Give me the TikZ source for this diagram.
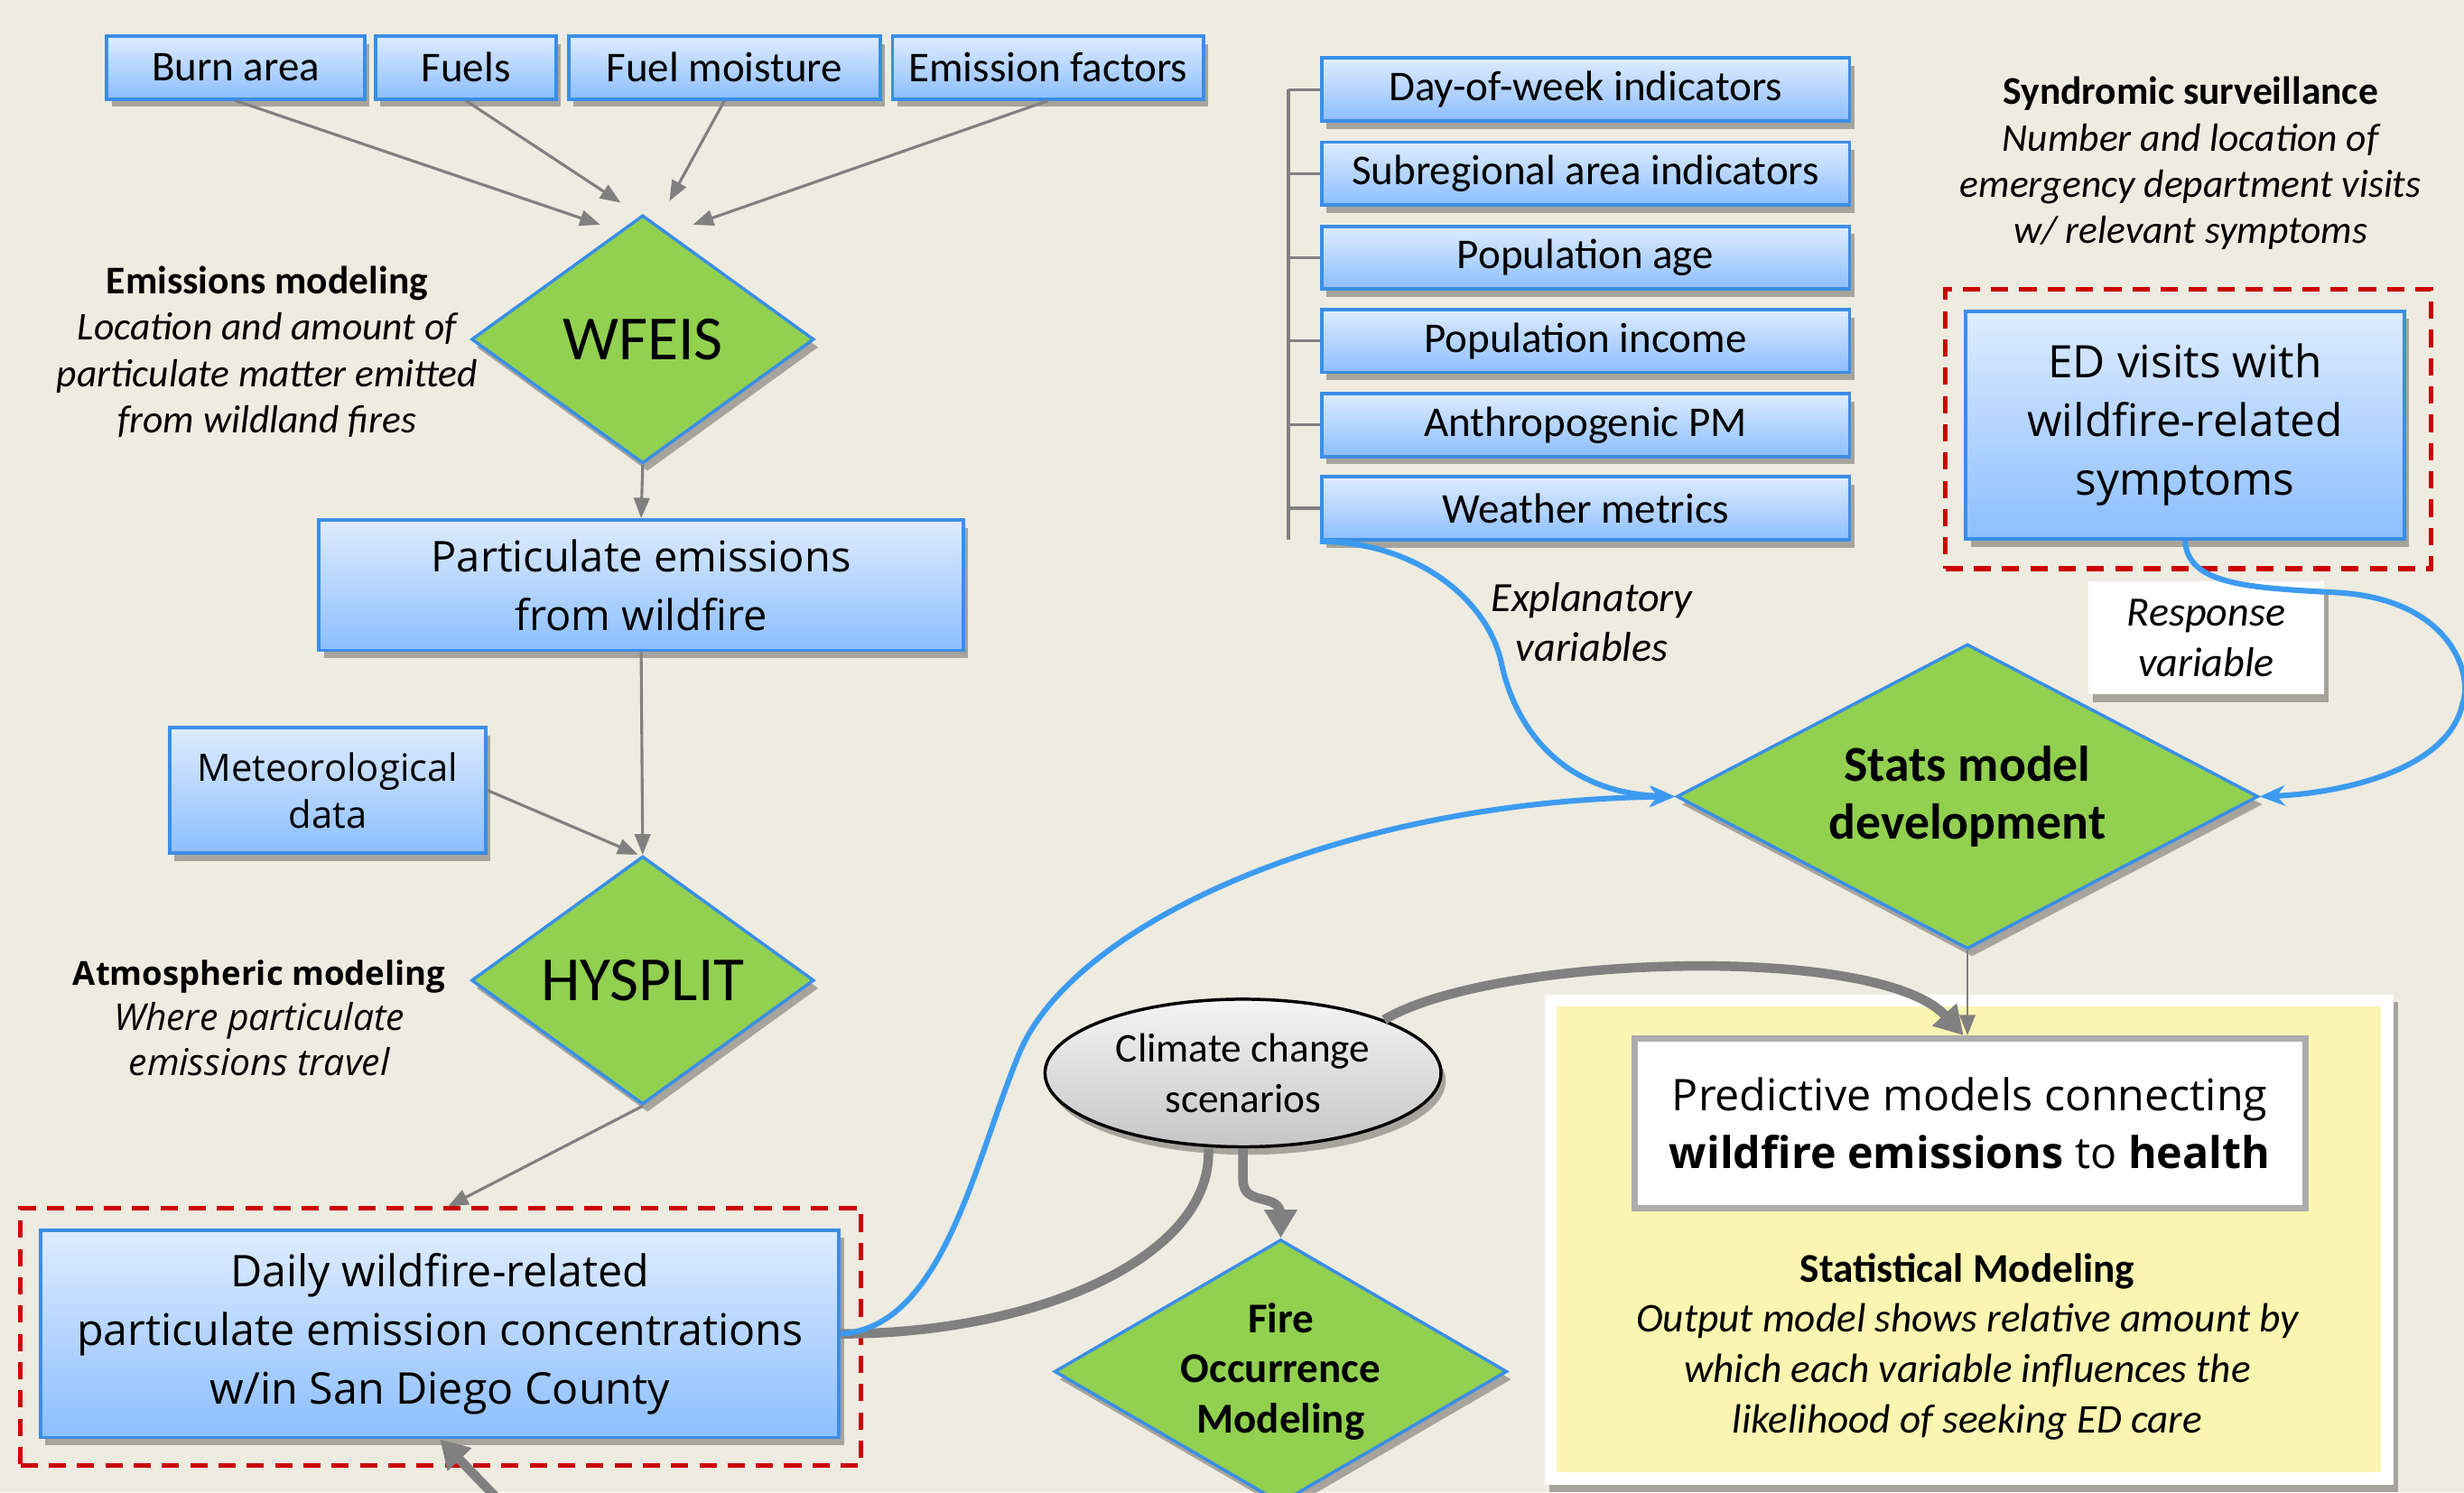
\documentclass[tikz,border=0pt]{standalone}
\usepackage{fontspec}
\setmainfont{Carlito}
\newfontfamily\seg{Open Sans}
\usetikzlibrary{shapes.geometric,arrows.meta,shadows,calc}
\definecolor{bg}{RGB}{238,235,224}
\definecolor{boxtop}{RGB}{222,236,255}
\definecolor{boxbot}{RGB}{140,190,255}
\definecolor{boxline}{RGB}{58,142,230}
\definecolor{dgreen}{RGB}{146,208,80}
\definecolor{blueline}{RGB}{60,155,240}
\definecolor{garrow}{RGB}{128,128,128}
\definecolor{dred}{RGB}{204,0,0}
\definecolor{panelyellow}{RGB}{250,245,176}
\tikzset{
  sh/.style={drop shadow={shadow xshift=3pt,shadow yshift=-5pt,opacity=0.3,fill=black}},
  vbox/.style={sh,draw=boxline,line width=2.2pt,top color=boxtop,bottom color=boxbot,inner sep=0pt,align=center},
  topfont/.style={font=\fontsize{27}{33}\selectfont},
  segfont/.style={font=\seg\fontsize{27}{37}\selectfont},
  dia/.style={sh,diamond,draw=boxline,line width=2pt,fill=dgreen,inner sep=0pt},
  garr/.style={draw=garrow,line width=1.8pt,-{Triangle[length=13pt,width=10pt]}},
  gthick/.style={draw=garrow,line width=6pt},
  gthickarr/.style={gthick,-{Triangle[length=18pt,width=20pt]}},
  bluec/.style={draw=blueline,line width=3.5pt},
  bluearr/.style={bluec,-{Stealth[length=16pt,width=13pt]}},
  reddash/.style={draw=dred,line width=3pt,dash pattern=on 11pt off 7pt},
  desc/.style={align=center,inner sep=0pt,font=\fontsize{25}{29.5}\selectfont},
  brk/.style={draw=garrow,line width=1.8pt},
}
\begin{document}
\begin{tikzpicture}[x=1pt,y=-1pt]
\useasboundingbox (0,0) rectangle (1568,950);
\fill[bg] (0,0) rectangle (1568,950);
\clip (0,0) rectangle (1568,950);

% ---------- left column ----------
\node[vbox,topfont,minimum width=164pt,minimum height=40pt] (burn) at (150,43) {Burn area};
\node[vbox,topfont,minimum width=115pt,minimum height=40pt] (fuels) at (296.5,43) {Fuels};
\node[vbox,topfont,minimum width=198pt,minimum height=40pt] (moist) at (461,43) {Fuel moisture};
\node[vbox,topfont,minimum width=198pt,minimum height=40pt] (emis) at (667,43) {Emission factors};

\node[dia,minimum width=218pt,minimum height=158pt,
      label={[font=\fontsize{40}{48}\selectfont]center:WFEIS}] (wfeis) at (409,216) {};
\node[desc] (emtxt) at (170,224) {\textbf{Emissions modeling}\\\itshape Location and amount of\\\itshape particulate matter emitted\\\itshape from wildland fires};

\coordinate (c1) at ($(wfeis.north)+(-27,7)$);
\coordinate (c2) at ($(wfeis.north)+(-14,-7)$);
\coordinate (c3) at ($(wfeis.north)+(17,-8)$);
\coordinate (c4) at ($(wfeis.north)+(32,7)$);
\draw[garr] (burn.south) -- (c1);
\draw[garr] (fuels.south) -- (c2);
\draw[garr] (moist.south) -- (c3);
\draw[garr] (emis.south) -- (c4);

\node[vbox,segfont,minimum width=410pt,minimum height=83pt] (partic) at (408,372.5) {Particulate emissions\\from wildfire};
\draw[garr] (wfeis.south) -- (partic.north);

\node[vbox,font=\seg\fontsize{24}{30}\selectfont,minimum width=201pt,minimum height=80pt] (meteo) at (208.5,503) {Meteorological\\data};
\node[dia,minimum width=218pt,minimum height=158pt,
      label={[font=\fontsize{40}{48}\selectfont]center:HYSPLIT}] (hys) at (409,624) {};
\draw[garr] (partic.south) -- (hys.north);
\draw[garr] (meteo.east) -- ($(hys.north)+(-3,0)$);
\node[align=center,inner sep=0pt,font=\seg\fontsize{21}{29}\selectfont] (atmtxt) at (165,648) {\textbf{Atmospheric modeling}\\\fontsize{23.5}{29}\selectfont\itshape Where particulate\\\fontsize{23.5}{29}\selectfont\itshape emissions travel};

\node[reddash,minimum width=535pt,minimum height=164pt,inner sep=0pt] (redA) at (280.5,851) {};
\node[vbox,font=\seg\fontsize{27.8}{37.5}\selectfont,minimum width=508pt,minimum height=132pt] (daily) at (280,849) {Daily wildfire-related\\particulate emission concentrations\\w/in San Diego County};
\coordinate (redAtop) at (285,768);
\draw[garr] (hys.south) -- (redAtop);

% ---------- right column ----------
\node[vbox,topfont,minimum width=336pt,minimum height=40pt] (dow) at (1009,57) {Day-of-week indicators};
\node[vbox,topfont,minimum width=336pt,minimum height=40pt] (sub) at (1009,110.5) {Subregional area indicators};
\node[vbox,topfont,minimum width=336pt,minimum height=40pt] (age) at (1009,164) {Population age};
\node[vbox,topfont,minimum width=336pt,minimum height=40pt] (inc) at (1009,217) {Population income};
\node[vbox,topfont,minimum width=336pt,minimum height=40pt] (anth) at (1009,270.5) {Anthropogenic PM};
\node[vbox,topfont,minimum width=336pt,minimum height=40pt] (wx) at (1009,323.5) {Weather metrics};
\draw[brk] ($(dow.west)+(-20,0)$) -- ($(wx.west)+(-20,20)$);
\foreach \b in {dow,sub,age,inc,anth,wx}{\draw[brk] (\b.west) -- ++(-20,0);}

\node[desc] (syntxt) at (1394,104) {\textbf{Syndromic surveillance}\\\itshape Number and location of\\\itshape emergency department visits\\\itshape w/ relevant symptoms};
\node[reddash,minimum width=309pt,minimum height=178pt,inner sep=0pt] (redB) at (1392.5,273) {};
\node[vbox,font=\seg\fontsize{28.5}{37.5}\selectfont,minimum width=279pt,minimum height=145pt] (ed) at (1390.5,270.5) {ED visits with\\wildfire-related\\symptoms};

\node[sh,fill=white,minimum width=150pt,minimum height=72pt,inner sep=0pt,align=center,font=\itshape\fontsize{26.5}{32}\selectfont] (resp) at (1404,406) {Response\\variable};
\node[align=center,inner sep=0pt,font=\itshape\fontsize{26.5}{31.5}\selectfont] (expl) at (1013,396) {Explanatory\\variables};

\node[dia,minimum width=370pt,minimum height=194pt,
      label={[font=\bfseries\fontsize{32}{37}\selectfont,align=center]center:Stats model\\development}] (stats) at (1252,507) {};

% ---------- statistical panel ----------
\node[sh,fill=white,minimum width=540pt,minimum height=312pt,inner sep=0pt] (panel) at (1253,789) {};
\fill[panelyellow] ($(panel.north west)+(8,8)$) rectangle ($(panel.south east)+(-8,-8)$);
\node[draw=gray!65,line width=4pt,fill=white,minimum width=427pt,minimum height=108pt,inner sep=0pt,align=center,font=\seg\fontsize{27.8}{37}\selectfont] (pred) at (1253.5,715) {Predictive models connecting\\\textbf{wildfire emissions} to \textbf{health}};
\node[align=center,inner sep=0pt,font=\fontsize{26}{32}\selectfont] (stattxt) at (1252,857) {\textbf{Statistical Modeling}\\\itshape Output model shows relative amount by\\\itshape which each variable influences the\\\itshape likelihood of seeking ED care};

% ---------- climate / fire ----------
\node[sh,ellipse,draw=black,line width=2pt,top color=gray!8,bottom color=gray!45,minimum width=252pt,minimum height=94pt,inner sep=0pt,align=center,font=\fontsize{26}{32}\selectfont] (clim) at (791,683) {Climate change\\scenarios};
\node[dia,minimum width=288pt,minimum height=168pt,
      label={[font=\bfseries\fontsize{27}{32}\selectfont,align=center]center:Fire\\Occurrence\\Modeling}] (fire) at (815,873) {};

% ---------- connectors ----------
\draw[garr,line width=1.5pt] (stats.south) -- (stats.south |- pred.north);
\draw[gthickarr] (clim.north east) .. controls (950,608) and (1195,600) .. ($(pred.north)+(-4,0)$);
\draw[gthick] (daily.east) .. controls (660,849) and (772,800) .. ($(clim.south)+(-22,0)$);
\draw[gthickarr] (clim.south) -- ++(0,20) .. controls ++(0,18) and (815,758) .. (815,774) -- (fire.north);
\coordinate (offbottom) at (330,968);
\draw[gthickarr] (offbottom) -- (daily.south);

\draw[bluearr] (wx.south west) .. controls (900,345) and (945,380) .. (955,420)
   .. controls (965,470) and (1000,505) .. (stats.west);
\draw[bluearr] (daily.east) .. controls (600,845) and (620,740) .. (648,672)
   .. controls (680,590) and (850,510) .. (stats.west);
\draw[bluearr] (ed.south) .. controls (1392,372) and (1430,374) .. (1484,377)
   .. controls (1560,380) and (1574,430) .. (1567,448)
   .. controls (1558,490) and (1490,505) .. (stats.east);
\end{tikzpicture}
\end{document}
